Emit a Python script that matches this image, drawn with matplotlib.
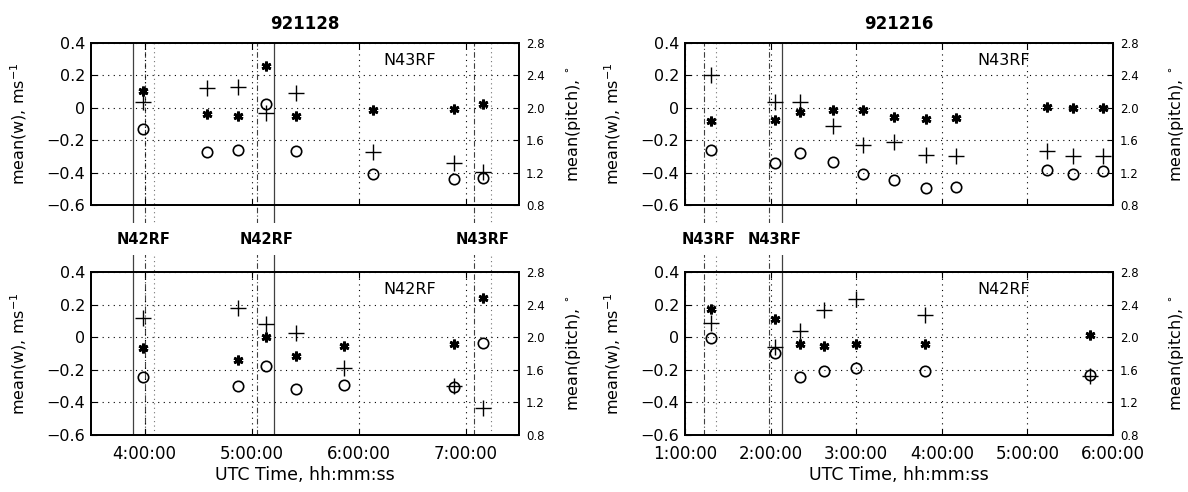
import matplotlib
matplotlib.use('Agg')
import matplotlib.pyplot as plt

plt.rcParams['font.family'] = ['DejaVu Sans']
plt.rcParams['axes.unicode_minus'] = True

# ---------------- data (time in decimal hours UTC) ----------------
# 921128, upper panel (N43RF)
tl_time = [3.99, 4.584, 4.87, 5.14, 5.42, 6.14, 6.89, 7.16]
tl_w_star = [0.102, -0.041, -0.053, 0.256, -0.051, -0.014, -0.008, 0.023]
tl_w_circ = [-0.129, -0.272, -0.260, 0.023, -0.268, -0.409, -0.440, -0.436]
tl_pitch = [2.07, 2.24, 2.26, 1.93, 2.18, 1.45, 1.32, 1.21]

# 921128, lower panel (N42RF)
bl_time = [3.99, 4.876, 5.14, 5.42, 5.863, 6.89, 7.16]
bl_w_star = [-0.067, -0.137, 0.0, -0.116, -0.051, -0.041, 0.243]
bl_w_circ = [-0.245, -0.302, -0.178, -0.316, -0.296, -0.306, -0.037]
bl_pitch = [2.24, 2.36, 2.16, 2.05, 1.62, 1.40, 1.13]

# 921216, upper panel (N43RF)
tr_time = [1.30, 2.047, 2.346, 2.724, 3.074, 3.436, 3.817, 4.167, 5.226, 5.529, 5.88]
tr_w_star = [-0.082, -0.078, -0.027, -0.012, -0.016, -0.057, -0.069, -0.061, 0.004, 0.0, 0.0]
tr_w_circ = [-0.259, -0.343, -0.280, -0.337, -0.410, -0.443, -0.498, -0.488, -0.382, -0.408, -0.39]
tr_pitch = [2.41, 2.07, 2.07, 1.78, 1.54, 1.58, 1.42, 1.40, 1.47, 1.40, 1.40]

# 921216, lower panel (N42RF)
br_time = [1.30, 2.047, 2.346, 2.622, 3.0, 3.805, 5.73]
br_w_star = [0.176, 0.112, -0.043, -0.051, -0.039, -0.041, 0.012]
br_w_circ = [-0.002, -0.098, -0.243, -0.210, -0.186, -0.206, -0.229]
br_pitch = [2.17, 1.88, 2.07, 2.33, 2.47, 2.27, 1.53]

# event markers (vertical lines spanning both panels)
left_solid = [3.895, 5.211]
left_dashdot = [4.0, 5.047, 7.076]
left_dotted = [4.091, 7.241]
left_events = [(3.995, 'N42RF'), (5.14, 'N42RF'), (7.16, 'N43RF')]

right_solid = [2.137]
right_dashdot = [1.226, 1.98]
right_dotted = [1.359]
right_events = [(1.28, 'N43RF'), (2.05, 'N43RF')]

left_ticks = [4, 5, 6, 7]
left_ticklabels = ['4:00:00', '5:00:00', '6:00:00', '7:00:00']
right_ticks = [1, 2, 3, 4, 5, 6]
right_ticklabels = ['1:00:00', '2:00:00', '3:00:00', '4:00:00', '5:00:00', '6:00:00']

titles = ['921128', '921216']
w_ticks = [-0.6, -0.4, -0.2, 0, 0.2, 0.4]
w_ticklabels = ['\u22120.6', '\u22120.4', '\u22120.2', '0', '0.2', '0.4']
p_ticks = [0.8, 1.2, 1.6, 2.0, 2.4, 2.8]
p_ticklabels = ['0.8', '1.2', '1.6', '2.0', '2.4', '2.8']

# ---------------- layout ----------------
W, H = 1188, 492
fig = plt.figure(figsize=(W / 100, H / 100), dpi=100)
fig.patch.set_facecolor('white')


def rect(x0, y0, x1, y1):
    return [x0 / W, 1 - y1 / H, (x1 - x0) / W, (y1 - y0) / H]


cols = [(91, 519, (3.5, 7.5), left_ticks, left_ticklabels,
         left_solid, left_dashdot, left_dotted, left_events, 1.105),
        (685, 1113, (1.0, 6.0), right_ticks, right_ticklabels,
         right_solid, right_dashdot, right_dotted, right_events, 1.125)]
rows = [(43, 205), (272, 435)]

panels = [[(tl_time, tl_w_star, tl_w_circ, tl_pitch, 'N43RF'),
           (bl_time, bl_w_star, bl_w_circ, bl_pitch, 'N42RF')],
          [(tr_time, tr_w_star, tr_w_circ, tr_pitch, 'N43RF'),
           (br_time, br_w_star, br_w_circ, br_pitch, 'N42RF')]]

grid_ls = (0, (1, 4))
ev_color = '0.25'

for ci, (x0, x1, xlim, xt, xtl, solid, dashdot, dotted, events, rlab) in enumerate(cols):
    # overlay for event lines spanning both panels
    ov = fig.add_axes(rect(x0, rows[0][0], x1, rows[1][1]), zorder=0)
    ov.set_xlim(*xlim)
    ov.set_ylim(0, 1)
    ov.axis('off')
    for t in solid:
        ov.axvline(t, color=ev_color, lw=0.9, ls='-')
    for t in dashdot:
        ov.axvline(t, color=ev_color, lw=0.8, ls=(0, (5, 2, 1, 2)))
    for t in dotted:
        ov.axvline(t, color='0.45', lw=0.8, ls=(0, (1, 3)))
    for t, lab in events:
        ov.text(t, 0.5, lab, transform=ov.get_xaxis_transform(), ha='center',
                va='center', fontsize=10.5, fontweight='bold',
                bbox=dict(facecolor='white', edgecolor='none', pad=6), zorder=5)

    for ri, (y0, y1) in enumerate(rows):
        t, ws, wc, pp, name = panels[ci][ri]
        ax = fig.add_axes(rect(x0, y0, x1, y1), zorder=1)
        ax.patch.set_visible(False)
        ax.set_xlim(*xlim)
        ax.set_ylim(-0.6, 0.4)
        ax.set_yticks(w_ticks)
        ax.set_yticklabels(w_ticklabels)
        ax.set_xticks(xt)
        if ri == 1:
            ax.set_xticklabels(xtl)
            ax.set_xlabel('UTC Time, hh:mm:ss', fontsize=12.5, labelpad=2)
        else:
            ax.set_xticklabels([])
            ax.set_title(titles[ci], fontsize=12, fontweight='bold', pad=10)
        ax.grid(True, color='k', lw=0.8, ls=grid_ls)
        ax.tick_params(axis='y', direction='in', length=4, width=0.8, labelsize=11.5,
                       right=False, pad=4)
        ax.tick_params(axis='x', direction='in', length=4, width=0.8, labelsize=12,
                       top=True, pad=7)
        for s in ax.spines.values():
            s.set_linewidth(1.3)
        ax.plot(t, ws, ls='none', marker=(6, 2, 0), ms=7, mew=2.0, color='k')
        ax.plot(t, wc, ls='none', marker='o', ms=7.5, mew=1.2, mfc='none', mec='k')
        ax.set_ylabel('mean(w), ms$^{-1}$', fontsize=11.5)
        ax.yaxis.set_label_coords(-0.145, 0.5)
        ax.text(0.745, 0.89, name, transform=ax.transAxes, ha='center',
                va='center', fontsize=11.5)

        ax2 = ax.twinx()
        ax2.set_zorder(2)
        ax2.patch.set_visible(False)
        ax2.set_ylim(0.8, 2.8)
        ax2.set_yticks(p_ticks)
        ax2.set_yticklabels(p_ticklabels)
        ax2.tick_params(direction='in', length=4, width=0.8, labelsize=8.5, pad=5)
        for s in ax2.spines.values():
            s.set_linewidth(1.3)
        ax2.plot(t, pp, ls='none', marker='+', ms=11, mew=1.0, color='k')
        ax2.set_ylabel('mean(pitch), $^{\\circ}$', fontsize=11.5, rotation=90)
        ax2.yaxis.set_label_coords(rlab, 0.5)

fig.savefig('out.png', dpi=100, facecolor='white')
